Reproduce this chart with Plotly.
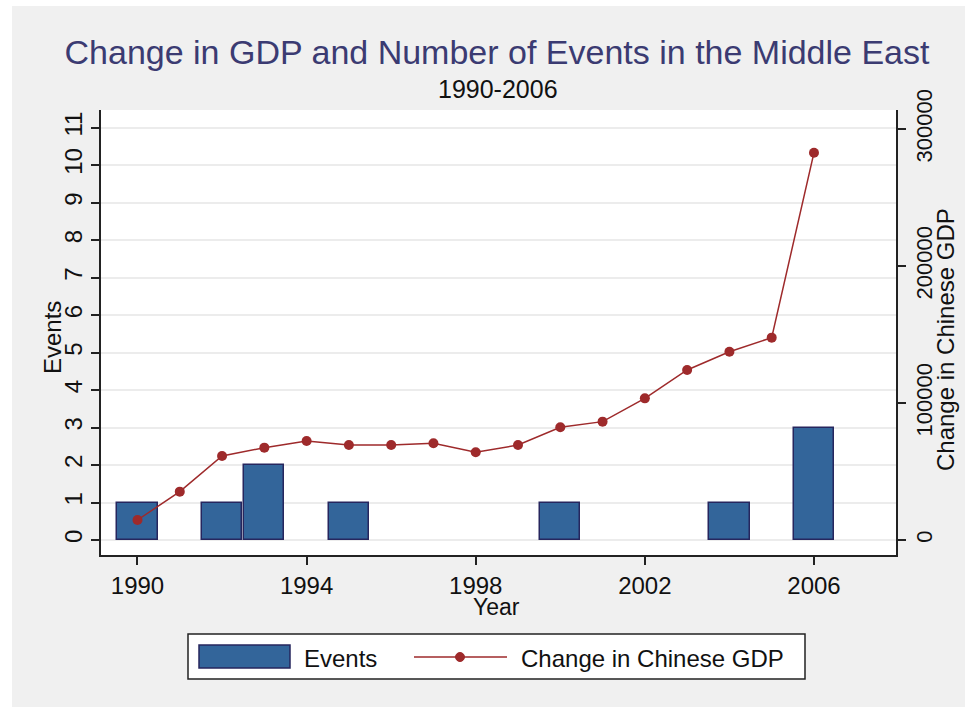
import plotly.graph_objects as go

# ---- data ----
years = list(range(1990, 2007))
event_years = [1990, 1992, 1993, 1995, 2000, 2004, 2006]
event_counts = [1, 1, 2, 1, 1, 1, 3]
gdp_change = [14600, 35300, 61300, 67400, 72300, 69300, 69300, 70600, 64000,
              69300, 82300, 86400, 103400, 124100, 137400, 147700, 282700]
x_ticks = [1990, 1994, 1998, 2002, 2006]
y_ticks = list(range(0, 12))
y2_ticks = [0, 100000, 200000, 300000]
y2_ticktext = ["0", "100000", "200000", "300000"]

W, H = 965, 707
L, R, T, B = 101, 69, 110, 152
PW, PH = W - L - R, H - T - B

def px(x):
    return (x - L) / PW

def py(y):
    return (H - B - y) / PH

FONT = "Liberation Sans, Arial, sans-serif"
BAR_FILL = "#33659a"
BAR_LINE = "#26265e"
LINE_COL = "#9e2a2b"

fig = go.Figure()
fig.add_trace(go.Bar(
    x=event_years, y=event_counts, name="Events", width=0.95,
    marker=dict(color=BAR_FILL, line=dict(color=BAR_LINE, width=1.5)),
    showlegend=False, yaxis="y"))
fig.add_trace(go.Scatter(
    x=years, y=gdp_change, name="Change in Chinese GDP", mode="lines+markers",
    line=dict(color=LINE_COL, width=1.5),
    marker=dict(color=LINE_COL, size=10),
    showlegend=False, yaxis="y2"))

shapes = [
    # white outer border
    dict(type="rect", xref="paper", yref="paper", x0=px(0), x1=px(12), y0=py(0), y1=py(H),
         fillcolor="white", line=dict(width=0), layer="above"),
    dict(type="rect", xref="paper", yref="paper", x0=px(0), x1=px(W), y0=py(0), y1=py(6),
         fillcolor="white", line=dict(width=0), layer="above"),
    # legend box
    dict(type="rect", xref="paper", yref="paper", x0=px(188), x1=px(805), y0=py(634), y1=py(679),
         fillcolor="white", line=dict(color="#222222", width=1.5), layer="above"),
    dict(type="rect", xref="paper", yref="paper", x0=px(199), x1=px(290), y0=py(645), y1=py(668),
         fillcolor=BAR_FILL, line=dict(color=BAR_LINE, width=1.5), layer="above"),
    dict(type="line", xref="paper", yref="paper", x0=px(414), x1=px(507), y0=py(657), y1=py(657),
         line=dict(color=LINE_COL, width=1.5), layer="above"),
    dict(type="circle", xref="paper", yref="paper", x0=px(455.5), x1=px(464.5), y0=py(652.5), y1=py(661.5),
         fillcolor=LINE_COL, line=dict(color=LINE_COL, width=1), layer="above"),
]

annotations = [
    dict(text="1990-2006", xref="paper", yref="paper", x=px(498), y=py(89),
         showarrow=False, font=dict(size=25, color="#111111", family=FONT), xanchor="center", yanchor="middle"),
    dict(text="Events", xref="paper", yref="paper", x=px(52), y=py(338), textangle=-90,
         showarrow=False, font=dict(size=24, color="#111111", family=FONT), xanchor="center", yanchor="middle"),
    dict(text="Year", xref="paper", yref="paper", x=px(496), y=py(607),
         showarrow=False, font=dict(size=23, color="#111111", family=FONT), xanchor="center", yanchor="middle"),
    dict(text="Change in Chinese GDP", xref="paper", yref="paper", x=px(945), y=py(340), textangle=-90,
         showarrow=False, font=dict(size=24, color="#111111", family=FONT), xanchor="center", yanchor="middle"),
    dict(text="Events", xref="paper", yref="paper", x=px(302), y=py(658),
         showarrow=False, font=dict(size=24, color="#111111", family=FONT), xanchor="left", yanchor="middle"),
    dict(text="Change in Chinese GDP", xref="paper", yref="paper", x=px(519), y=py(658),
         showarrow=False, font=dict(size=24, color="#111111", family=FONT), xanchor="left", yanchor="middle"),
]

fig.update_layout(
    width=W, height=H,
    margin=dict(l=L, r=R, t=T, b=B),
    paper_bgcolor="#f0f0f0", plot_bgcolor="white",
    font=dict(family=FONT, size=24, color="#111111"),
    title=dict(text="Change in GDP and Number of Events in the Middle East",
               x=px(497), xref="paper", xanchor="center",
               y=1 - 52 / H, yref="container", yanchor="middle",
               font=dict(size=34, color="#3b3b72", family=FONT)),
    showlegend=False,
    bargap=0,
    xaxis=dict(range=[1989.137, 2007.94], tickvals=x_ticks, ticks="outside", ticklen=8,
               tickcolor="#222222", tickwidth=1.5, showline=True, linecolor="#222222", linewidth=1.5,
               showgrid=False, zeroline=False, tickfont=dict(size=24)),
    yaxis=dict(range=[-0.4, 11.47], tickvals=y_ticks, ticks="outside", ticklen=8,
               tickcolor="#222222", tickwidth=1.5, showline=True, linecolor="#222222", linewidth=1.5,
               showgrid=True, gridcolor="#ececec", gridwidth=1.5, zeroline=False,
               tickangle=-90, tickfont=dict(size=24)),
    yaxis2=dict(range=[-10950, 313870], tickvals=y2_ticks, ticktext=y2_ticktext, ticks="outside", ticklen=8,
                tickcolor="#222222", tickwidth=1.5, showline=True, linecolor="#222222", linewidth=1.5,
                showgrid=False, zeroline=False, overlaying="y", side="right",
                tickangle=-90, tickfont=dict(size=22)),
    shapes=shapes, annotations=annotations,
)

fig.write_html("out.html", config={"displayModeBar": False},
               post_script="document.body.style.margin='0px';document.body.style.overflow='hidden';")
